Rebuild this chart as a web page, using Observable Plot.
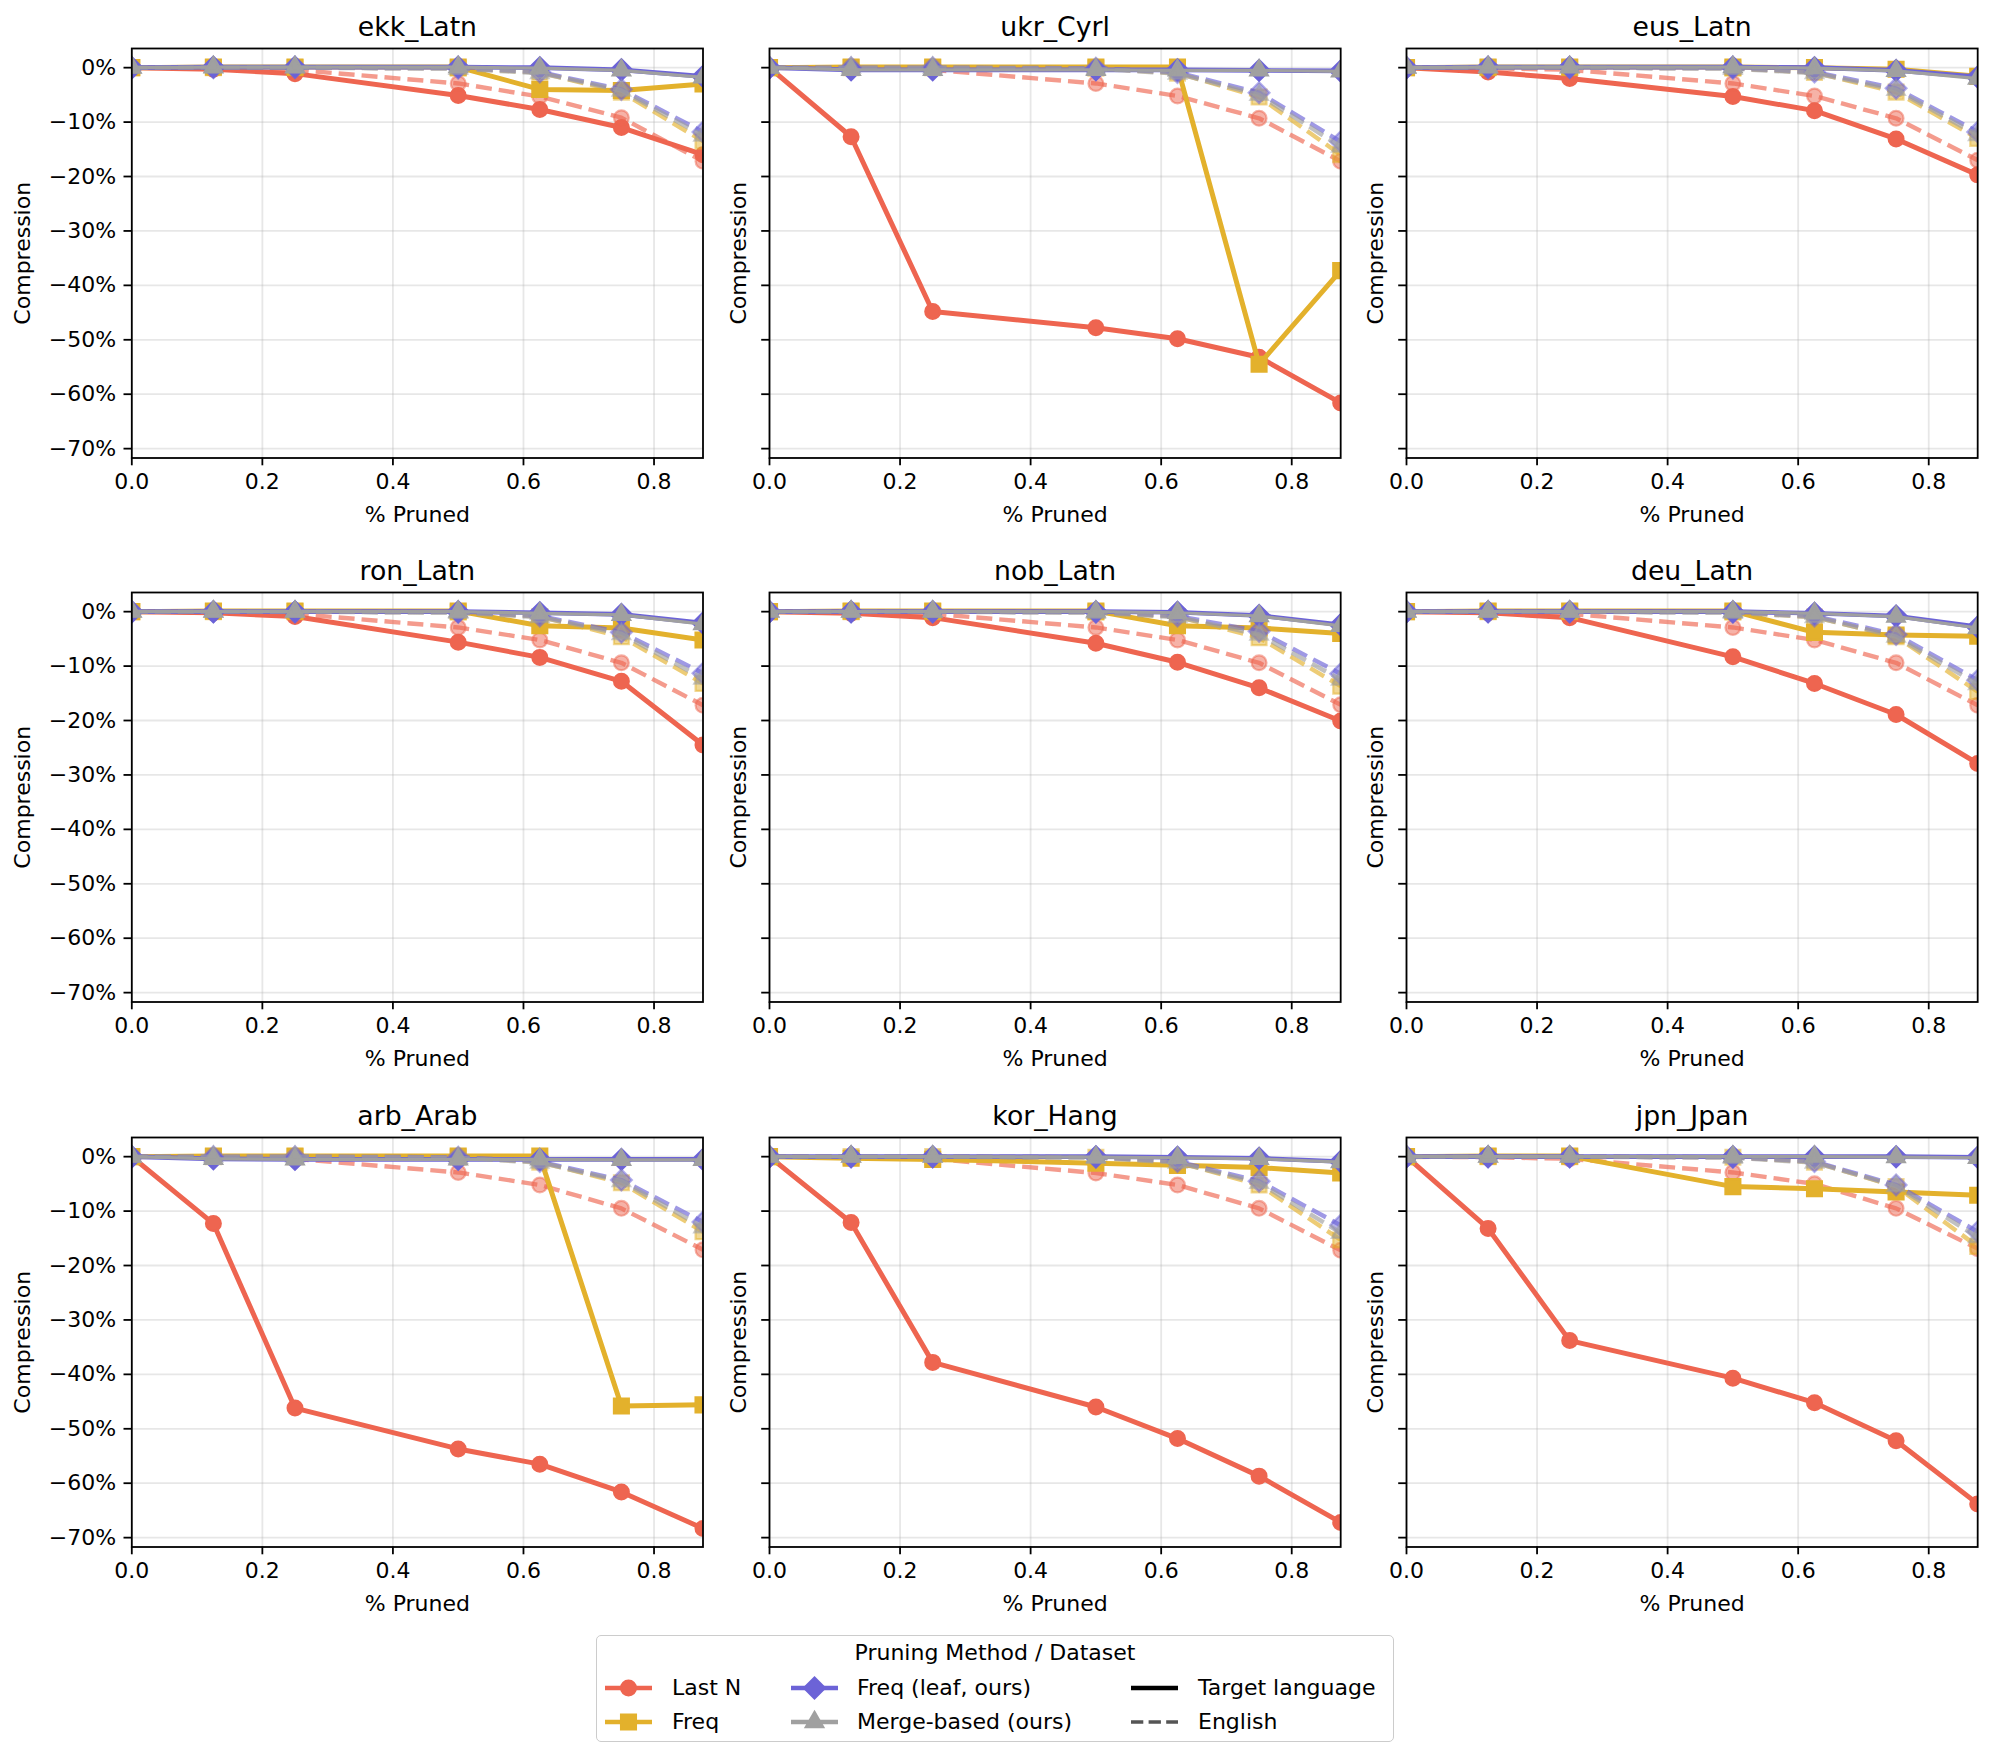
<!DOCTYPE html>
<html>
<head>
<meta charset="utf-8">
<script src="https://cdn.jsdelivr.net/npm/d3@7"></script>
<script src="https://cdn.jsdelivr.net/npm/@observablehq/plot@0.6"></script>
<style>
  html, body { margin: 0; padding: 0; background: #ffffff; }
  #fig { position: relative; width: 1992px; height: 1756px; background: #ffffff; font-family: "DejaVu Sans", sans-serif; overflow: hidden; }
  #fig svg.panel { position: absolute; overflow: visible; background: none; }
  #legend { position: absolute; box-sizing: border-box; border: 1.8px solid #cccccc; border-radius: 5px; background: rgba(255,255,255,0.8); font-family: "DejaVu Sans", sans-serif; font-size: 22px; color: #000; }
  #legend .lt { position: absolute; white-space: nowrap; line-height: 1; }
  #legend svg { position: absolute; overflow: visible; }
</style>
</head>
<body>
<div id="fig"></div>
<script>
// ---------------- data ----------------
const pruned = [0, 0.125, 0.25, 0.5, 0.625, 0.75, 0.875];
const languages = ["ekk_Latn", "ukr_Cyrl", "eus_Latn", "ron_Latn", "nob_Latn", "deu_Latn", "arb_Arab", "kor_Hang", "jpn_Jpan"];
const methods = ["Last N", "Freq", "Freq (leaf, ours)", "Merge-based (ours)"];
const datasets = ["Target language", "English"];
const xTicks = [0, 0.2, 0.4, 0.6, 0.8];
const yTicks = [0, -10, -20, -30, -40, -50, -60, -70];

// compression change (%) per language (rows, in `languages` order) at each `pruned` level
const lastN_target = [
  [0, -0.3, -1.1, -5.1, -7.7, -11.0, -16.0],
  [0, -12.7, -44.8, -47.8, -49.8, -53.2, -61.6],
  [0, -0.8, -2.0, -5.3, -7.9, -13.1, -19.7],
  [0, -0.2, -0.9, -5.6, -8.4, -12.8, -24.5],
  [0, -0.3, -1.1, -5.8, -9.3, -14.0, -20.1],
  [0, -0.2, -1.1, -8.3, -13.2, -18.9, -27.9],
  [0, -12.3, -46.2, -53.7, -56.5, -61.6, -68.3],
  [0, -12.1, -37.8, -46.0, -51.8, -58.7, -67.2],
  [0, -13.2, -33.8, -40.7, -45.2, -52.2, -63.8]
];
const freq_target = [
  [0, 0.1, 0.1, 0.1, -4.0, -4.2, -3.0],
  [0, 0.1, 0.1, 0.1, 0.1, -54.5, -37.3],
  [0, 0.1, 0.1, 0.1, 0.0, -0.3, -1.6],
  [0, 0.1, 0.1, 0.1, -2.6, -3.0, -5.2],
  [0, 0.1, 0.1, 0.1, -2.6, -3.0, -4.0],
  [0, 0.1, 0.1, 0.1, -3.8, -4.3, -4.5],
  [0, 0.1, 0.1, 0.1, 0.1, -45.8, -45.6],
  [0, -0.3, -0.5, -1.2, -1.6, -2.0, -3.0],
  [0, 0.1, 0.1, -5.5, -5.9, -6.5, -7.1]
];
const leaf_target = [
  [0, 0.1, 0.1, 0.1, 0.0, -0.4, -1.6],
  [0, -0.4, -0.4, -0.4, -0.4, -0.5, -0.6],
  [0, 0.1, 0.1, 0.1, 0.0, -0.5, -1.7],
  [0, 0.0, 0.0, 0.0, -0.2, -0.5, -2.1],
  [0, 0.0, 0.0, 0.0, -0.1, -0.7, -2.4],
  [0, 0.0, 0.0, 0.0, -0.3, -0.8, -2.8],
  [0, -0.4, -0.5, -0.5, -0.5, -0.5, -0.5],
  [0, 0.0, 0.0, 0.0, -0.1, -0.3, -0.9],
  [0, 0.0, 0.0, 0.0, 0.0, 0.0, -0.1]
];
const merge_target = [
  [0, 0.1, 0.1, 0.1, -0.1, -0.5, -1.8],
  [0, -0.4, -0.4, -0.4, -0.5, -0.5, -0.7],
  [0, 0.1, 0.1, 0.1, -0.1, -0.6, -2.0],
  [0, 0.0, 0.0, 0.0, -0.3, -0.6, -2.3],
  [0, 0.0, 0.0, 0.0, -0.2, -0.8, -2.6],
  [0, 0.0, 0.0, 0.0, -0.3, -0.9, -3.0],
  [0, -0.4, -0.5, -0.5, -0.5, -0.6, -0.6],
  [0, 0.0, 0.0, -0.1, -0.2, -0.4, -1.0],
  [0, 0.0, 0.0, 0.0, 0.0, -0.1, -0.2]
];
const lastN_english = [
  [0, -0.1, -0.4, -2.9, -5.3, -9.2, -17.2],
  [0, -0.1, -0.4, -2.9, -5.2, -9.3, -17.2],
  [0, -0.1, -0.4, -2.9, -5.2, -9.3, -17.0],
  [0, -0.1, -0.4, -2.9, -5.2, -9.4, -17.2],
  [0, -0.1, -0.4, -2.9, -5.2, -9.4, -17.1],
  [0, -0.1, -0.4, -2.9, -5.2, -9.4, -17.2],
  [0, -0.1, -0.4, -2.9, -5.2, -9.5, -17.1],
  [0, -0.1, -0.4, -3.0, -5.2, -9.5, -17.2],
  [0, -0.1, -0.4, -2.9, -5.0, -9.5, -16.9]
];
const freq_english = [
  [0, 0, 0, -0.1, -0.9, -4.5, -13.5],
  [0, 0, 0, -0.1, -1.0, -5.4, -16.0],
  [0, 0, 0, -0.1, -0.9, -4.5, -13.0],
  [0, 0, 0, -0.1, -0.9, -4.6, -13.2],
  [0, 0, 0, -0.1, -0.9, -4.8, -13.7],
  [0, 0, 0, -0.1, -1.0, -4.6, -14.7],
  [0, 0, 0, -0.1, -1.0, -4.8, -13.8],
  [0, 0, 0, -0.1, -1.0, -5.2, -15.3],
  [0, 0, 0, -0.1, -1.0, -5.5, -16.5]
];
const leaf_english = [
  [0, 0, 0, -0.1, -0.8, -4.0, -11.8],
  [0, 0, 0, -0.1, -0.9, -4.6, -13.6],
  [0, 0, 0, -0.1, -0.8, -3.8, -11.8],
  [0, 0, 0, -0.1, -0.8, -3.8, -11.3],
  [0, 0, 0, -0.1, -0.8, -3.6, -11.4],
  [0, 0, 0, -0.1, -0.8, -4.2, -12.6],
  [0, 0, 0, -0.1, -0.9, -4.3, -12.0],
  [0, 0, 0, -0.1, -0.9, -4.5, -12.6],
  [0, 0, 0, -0.1, -0.9, -5.2, -13.8]
];
const merge_english = [
  [0, 0, 0, -0.2, -1.0, -4.2, -12.5],
  [0, 0, 0, -0.2, -1.1, -5.0, -14.5],
  [0, 0, 0, -0.2, -1.0, -4.1, -12.4],
  [0, 0, 0, -0.2, -1.0, -4.1, -12.3],
  [0, 0, 0, -0.2, -1.0, -4.2, -12.5],
  [0, 0, 0, -0.2, -1.0, -4.6, -13.3],
  [0, 0, 0, -0.2, -1.1, -4.5, -13.0],
  [0, 0, 0, -0.2, -1.1, -4.8, -14.0],
  [0, 0, 0, -0.2, -1.1, -5.4, -14.8]
];

// ---------------- styling ----------------
const methodColors = ["#EE6550", "#E3B12C", "#6C63D7", "#A0A0A0"];
const methodSymbols = ["circle", "square", "diamond2", "triangle"];
const methodR = [7.4, 8.4, 9.4, 6.5];
const targetWidths = [5.0, 5.0, 4.6, 3.2];
const seriesTables = [
  [lastN_target, lastN_english],
  [freq_target, freq_english],
  [leaf_target, leaf_english],
  [merge_target, merge_english]
];

// matplotlib-like auto limits: x tight, y with 5% margins over all data
const allY = seriesTables.flat().flat().flat();
const yMin = d3.min(allY), yMax = d3.max(allY);
const yPad = 0.05 * (yMax - yMin);
const yDomain = [yMin - yPad, yMax + yPad];
const xDomain = d3.extent(pruned);

const fmtY = d => d === 0 ? "0%" : (d < 0 ? "\u2212" + Math.abs(d) + "%" : d + "%");
const fmtX = d3.format(".1f");

// panel geometry (px)
const axW = 571.2, axH = 409.5;
const axLeft = [131.3, 768.6, 1406.2];
const axTop = [47.5, 592.2, 1137.0];

const fig = document.getElementById("fig");

languages.forEach((lang, li) => {
  const r = Math.floor(li / 3), c = li % 3;
  const svgLeft = c === 0 ? 0 : axLeft[c] - 70;
  const mL = axLeft[c] - svgLeft;
  const mT = 48, mB = 92, mR = 6;

  const marks = [
    Plot.gridX(xTicks, {stroke: "#b0b0b0", strokeOpacity: 0.3, strokeWidth: 1.8}),
    Plot.gridY(yTicks, {stroke: "#b0b0b0", strokeOpacity: 0.3, strokeWidth: 1.8})
  ];

  methods.forEach((m, mi) => {
    datasets.forEach((ds, di) => {
      const vals = seriesTables[mi][di][li];
      const rows = pruned.map((p, k) => ({x: p, y: vals[k]}));
      const eng = di === 1;
      marks.push(Plot.line(rows, {
        x: "x", y: "y", stroke: methodColors[mi],
        strokeWidth: eng ? 4.4 : targetWidths[mi],
        strokeOpacity: eng ? 0.65 : 1,
        strokeDasharray: eng ? "16,7" : null,
        strokeLinecap: eng ? "butt" : "round",
        clip: true
      }));
      marks.push(Plot.dot(rows, {
        x: "x", y: "y", symbol: methodSymbols[mi], r: methodR[mi],
        fill: methodColors[mi], stroke: methodColors[mi], strokeWidth: 2.2,
        fillOpacity: eng ? 0.5 : 1, strokeOpacity: eng ? 0.5 : 1,
        clip: true
      }));
    });
  });

  marks.push(Plot.frame({stroke: "#000", strokeWidth: 1.8}));
  marks.push(Plot.axisX({ticks: xTicks, tickFormat: fmtX, tickSize: 7.8, tickPadding: 7.8, strokeWidth: 1.8, fontSize: 22, label: null}));
  marks.push(Plot.axisY(c === 0
    ? {ticks: yTicks, tickFormat: fmtY, tickSize: 7.8, tickPadding: 7.8, strokeWidth: 1.8, fontSize: 22, label: null}
    : {ticks: yTicks, tickSize: 7.8, tickPadding: 7.8, strokeWidth: 1.8, fill: "none", label: null}));
  marks.push(Plot.text([lang], {text: d => d, frameAnchor: "top", lineAnchor: "middle", textAnchor: "middle", dy: -21.5, fontSize: 26.7, fill: "#000"}));
  marks.push(Plot.text(["% Pruned"], {text: d => d, frameAnchor: "bottom", lineAnchor: "middle", textAnchor: "middle", dy: 57, fontSize: 22, fill: "#000"}));
  marks.push(Plot.text(["Compression"], {text: d => d, frameAnchor: "left", lineAnchor: "middle", textAnchor: "middle", dx: c === 0 ? -108.5 : -30.5, rotate: -90, fontSize: 22, fill: "#000"}));

  const chart = Plot.plot({
    width: axW + mL + mR,
    height: axH + mT + mB,
    marginLeft: mL, marginRight: mR, marginTop: mT, marginBottom: mB,
    x: {domain: xDomain, axis: null, label: null},
    y: {domain: yDomain, axis: null, label: null},
    style: {fontFamily: "DejaVu Sans", fontSize: "22px", background: "none", color: "#000", overflow: "visible"},
    marks
  });
  chart.classList.add("panel");
  chart.style.left = svgLeft + "px";
  chart.style.top = (axTop[r] - mT) + "px";
  chart.style.maxWidth = "none";
  fig.appendChild(chart);
});

// ---------------- legend ----------------
const legend = document.createElement("div");
legend.id = "legend";
const LG = {left: 596, top: 1635, width: 798, height: 107};
Object.assign(legend.style, {left: LG.left + "px", top: LG.top + "px", width: LG.width + "px", height: LG.height + "px"});
fig.appendChild(legend);

function addText(txt, x, yc, anchorCenter) {
  const s = document.createElement("div");
  s.className = "lt";
  s.textContent = txt;
  s.style.top = (yc - LG.top - 11) + "px";
  if (anchorCenter) { s.style.left = "0"; s.style.width = "100%"; s.style.textAlign = "center"; }
  else s.style.left = (x - LG.left) + "px";
  legend.appendChild(s);
}
addText("Pruning Method / Dataset", 0, 1652, true);

const ns = "http://www.w3.org/2000/svg";
function addHandle(x0, yc, color, width, dash, symbol, r) {
  const svg = document.createElementNS(ns, "svg");
  svg.setAttribute("width", 48); svg.setAttribute("height", 30);
  svg.style.left = (x0 - LG.left) + "px";
  svg.style.top = (yc - LG.top - 15) + "px";
  const ln = document.createElementNS(ns, "line");
  ln.setAttribute("x1", 0); ln.setAttribute("x2", 47); ln.setAttribute("y1", 15); ln.setAttribute("y2", 15);
  ln.setAttribute("stroke", color); ln.setAttribute("stroke-width", width);
  if (dash) ln.setAttribute("stroke-dasharray", dash);
  svg.appendChild(ln);
  if (symbol) {
    const symMap = {circle: d3.symbolCircle, square: d3.symbolSquare, diamond2: d3.symbolDiamond2, triangle: d3.symbolTriangle};
    const p = document.createElementNS(ns, "path");
    p.setAttribute("d", d3.symbol(symMap[symbol], Math.PI * r * r)());
    p.setAttribute("transform", "translate(23.5,15)");
    p.setAttribute("fill", color); p.setAttribute("stroke", color); p.setAttribute("stroke-width", 2.2);
    svg.appendChild(p);
  }
  legend.appendChild(svg);
}
const legendCols = [{hx: 604, tx: 671}, {hx: 790, tx: 856}, {hx: 1130, tx: 1197}];
const legendRows = [1687, 1721];
methods.forEach((m, mi) => {
  const col = legendCols[Math.floor(mi / 2)], yc = legendRows[mi % 2];
  addHandle(col.hx, yc, methodColors[mi], 4.4, null, methodSymbols[mi], methodR[mi]);
  addText(m, col.tx, yc, false);
});
datasets.forEach((ds, di) => {
  const col = legendCols[2], yc = legendRows[di];
  addHandle(col.hx, yc, di === 0 ? "#000000" : "#555555", di === 0 ? 4.4 : 3.3, di === 0 ? null : "12.3,5.3", null, 0);
  addText(ds, col.tx, yc, false);
});
</script>
</body>
</html>
